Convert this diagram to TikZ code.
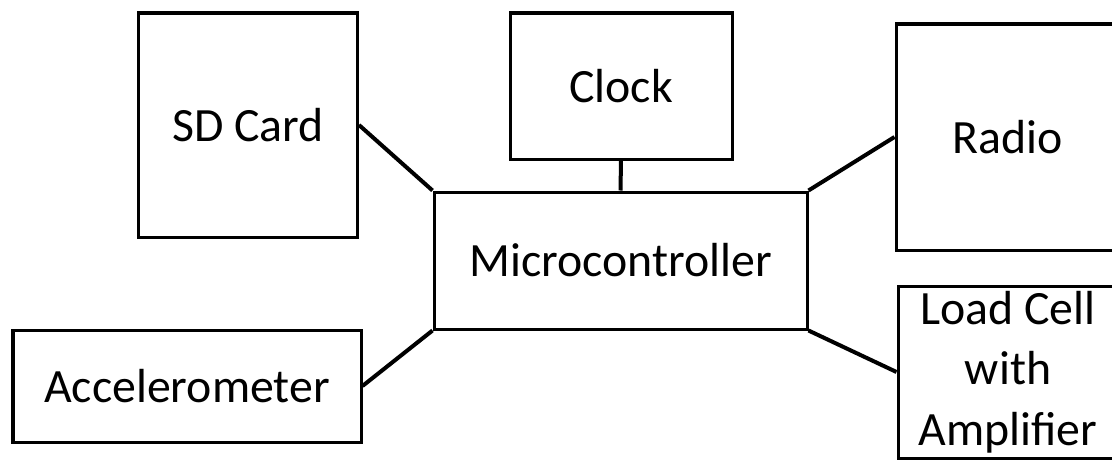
\documentclass[tikz,border=0pt]{standalone}
\usepackage{fontspec}
\setmainfont{Carlito}
\usetikzlibrary{positioning}

\tikzset{
  block/.style={draw, line width=0.075cm, rectangle, align=center, inner sep=0pt,
    font=\fontsize{34}{43}\selectfont},
  wire/.style={line width=0.1cm}
}

\begin{document}
\begin{tikzpicture}[x=0.025cm, y=-0.025cm]
      \useasboundingbox (0,0) rectangle (1112,460);
      \node[block, minimum width=373*0.025cm, minimum height=137*0.025cm] (mcu) at (620.5,260.5) {Microcontroller};
      \node[block, minimum width=219*0.025cm, minimum height=224*0.025cm] (sd) at (248,125) {SD Card};
      \node[block, minimum width=222*0.025cm, minimum height=146*0.025cm] (clk) at (621,86) {Clock};
      \node[block, minimum width=224*0.025cm, minimum height=226*0.025cm] (radio) at (1008,137) {Radio};
      \node[block, minimum width=348*0.025cm, minimum height=112*0.025cm] (accel) at (187,386) {Accelerometer};
      \node[block, minimum width=220*0.025cm, minimum height=172*0.025cm] (load) at (1008,372) {Load Cell\\with\\Amplifier};
      \draw[wire] (sd.east) -- (mcu.north west)
      (clk.south) -- (mcu.north)
      (mcu.north east) -- (radio.west)
      (mcu.south west) -- (accel.east)
      (mcu.south east) -- (load.west);
    \end{tikzpicture}
\end{document}
